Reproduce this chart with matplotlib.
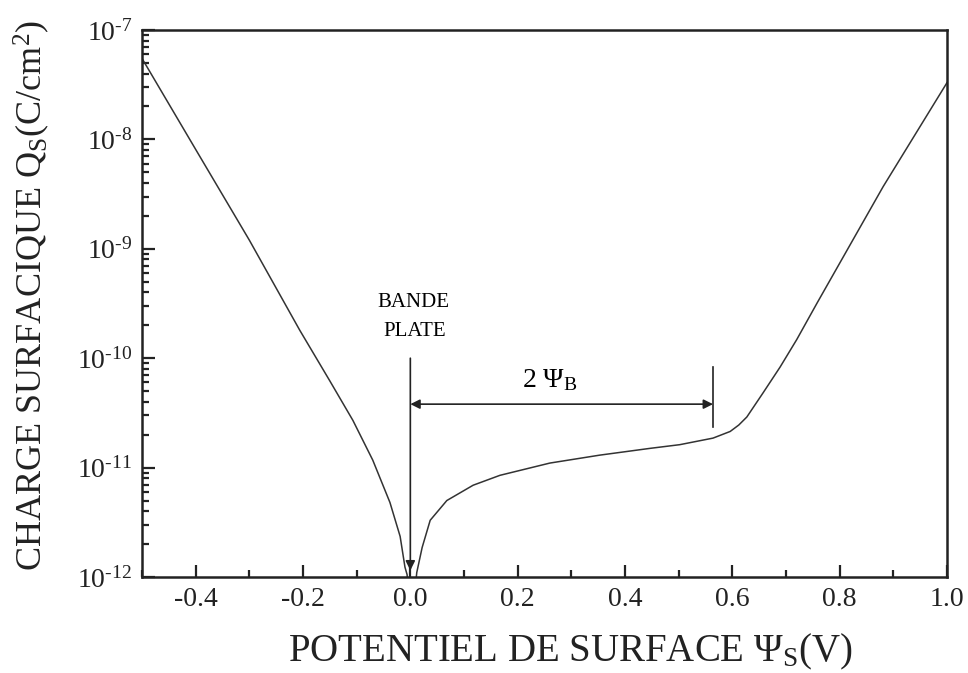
import matplotlib
matplotlib.use("Agg")
import matplotlib.pyplot as plt
from matplotlib.ticker import MultipleLocator, LogLocator, FixedLocator

plt.rcParams['font.family'] = ['Liberation Serif', 'DejaVu Serif']
plt.rcParams['mathtext.fontset'] = 'custom'
plt.rcParams['mathtext.rm'] = 'Liberation Serif'
plt.rcParams['mathtext.it'] = 'Liberation Serif:italic'
plt.rcParams['mathtext.bf'] = 'Liberation Serif:bold'

# branche accumulation (psi < 0)
x_acc = [-0.5, -0.4, -0.3, -0.206, -0.15, -0.107, -0.07, -0.038,
         -0.019, -0.010, -0.006, -0.004]
q_acc = [5.5e-8, 8.1e-9, 1.2e-9, 1.8e-10, 6.2e-11, 2.7e-11, 1.17e-11,
         4.8e-12, 2.35e-12, 1.23e-12, 1.05e-12, 7e-13]

# depletion / inversion (psi > 0)
x_inv = [0.008, 0.012, 0.022, 0.037, 0.068, 0.117, 0.167, 0.260, 0.353,
         0.447, 0.502, 0.564, 0.596, 0.612, 0.627, 0.657, 0.689, 0.720,
         0.758, 0.881, 1.0]
q_inv = [7e-13, 1.1e-12, 1.86e-12, 3.3e-12, 5.0e-12, 6.9e-12, 8.5e-12,
         1.1e-11, 1.3e-11, 1.5e-11, 1.62e-11, 1.86e-11, 2.14e-11, 2.45e-11,
         2.9e-11, 4.8e-11, 8.3e-11, 1.48e-10, 3.2e-10, 3.7e-9, 3.3e-8]

x_fb = 0.0      # bande plate
x_2psib = 0.564

fig = plt.figure(figsize=(9.68, 6.73), dpi=100)
ax = fig.add_axes([142/968, 1 - 577/673, 805/968, 547/673])

ax.plot(x_acc, q_acc, color='#333333', lw=1.1)
ax.plot(x_inv, q_inv, color='#333333', lw=1.1)

ax.set_yscale('log')
ax.set_xlim(-0.5, 1.0)
ax.set_ylim(1e-12, 1e-7)

ax.xaxis.set_major_locator(FixedLocator([-0.4, -0.2, 0.0, 0.2, 0.4, 0.6, 0.8, 1.0]))
ax.xaxis.set_minor_locator(MultipleLocator(0.1))
ax.set_xticklabels(['-0.4', '-0.2', '0.0', '0.2', '0.4', '0.6', '0.8', '1.0'])
ax.yaxis.set_minor_locator(LogLocator(base=10, subs=range(2, 10), numticks=20))
ax.set_yticks([1e-12, 1e-11, 1e-10, 1e-9, 1e-8, 1e-7])
ax.set_yticklabels([r'10$^{\text{-}12}$', r'10$^{\text{-}11}$', r'10$^{\text{-}10}$',
                    r'10$^{\text{-}9}$', r'10$^{\text{-}8}$', r'10$^{\text{-}7}$'])

ax.tick_params(which='both', direction='in', top=False, right=False,
               labelsize=20, width=1.6, colors='#222222')
ax.tick_params(which='major', length=9, pad=7)
ax.tick_params(which='minor', length=5)
for s in ax.spines.values():
    s.set_linewidth(1.8)
    s.set_color('#222222')

# annotations
ax.text(0.005, 10**-9.49, 'BANDE', ha='center', va='center', fontsize=15)
ax.text(0.009, 10**-9.76, 'PLATE', ha='center', va='center', fontsize=15)
ax.annotate('', xy=(x_fb, 10**-11.94), xytext=(x_fb, 10**-10.0),
            arrowprops=dict(arrowstyle='-|>', color='#222222', lw=1.2,
                            mutation_scale=14, shrinkA=0, shrinkB=0))
ax.annotate('', xy=(x_fb, 10**-10.42), xytext=(x_2psib, 10**-10.42),
            arrowprops=dict(arrowstyle='<|-|>', color='#222222', lw=1.2,
                            mutation_scale=14, shrinkA=0, shrinkB=0))
ax.plot([x_2psib, x_2psib], [10**-10.08, 10**-10.63], color='#222222', lw=1.2)
ax.text(0.26, 10**-10.2, r'2 $\Psi_{\rm B}$', ha='center', va='center', fontsize=20)

fig.text(570/968, 1 - 652/673, r'POTENTIEL DE SURFACE $\Psi_{\rm S}$(V)',
         ha='center', va='center', fontsize=28, color='#222222')
fig.text(32/968, 1 - 295/673, r'CHARGE SURFACIQUE Q$_{\rm S}$(C/cm$^2$)',
         ha='center', va='center', rotation=90, fontsize=26, color='#222222')

fig.savefig('out.png', dpi=100)
